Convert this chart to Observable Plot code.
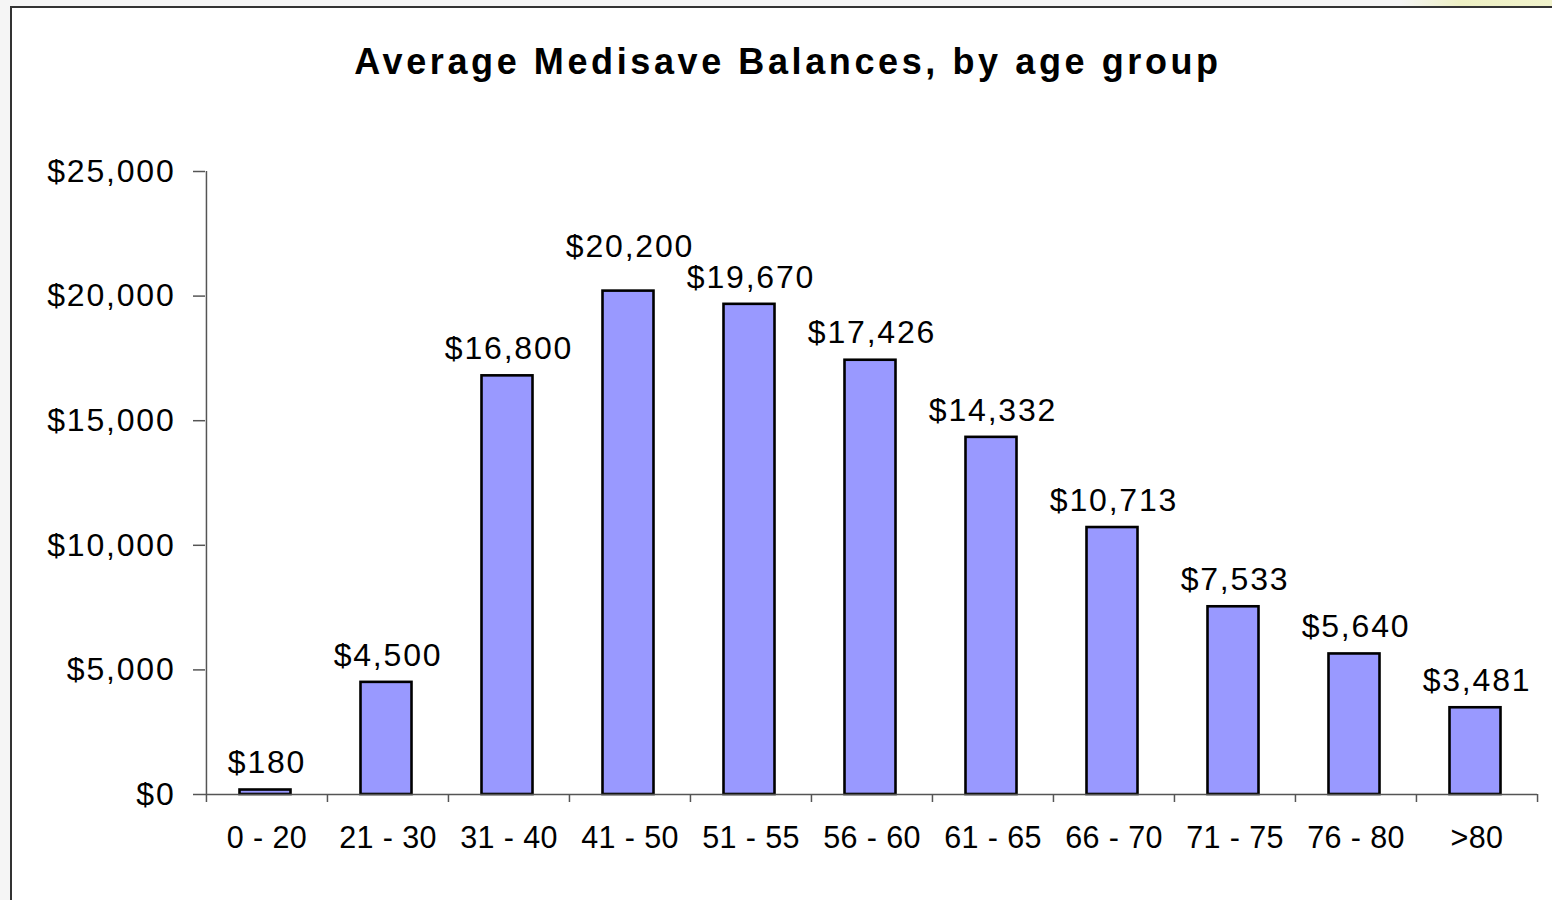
<!DOCTYPE html>
<html>
<head>
<meta charset="utf-8">
<script src="https://cdn.jsdelivr.net/npm/d3@7"></script>
<script src="https://cdn.jsdelivr.net/npm/@observablehq/plot@0.6"></script>
<style>
  html, body { margin: 0; padding: 0; overflow: hidden; background: #f5f5f5; width: 1552px; height: 900px; }
  #glow { position: absolute; left: 1400px; top: 0; width: 152px; height: 6px;
          background: linear-gradient(to right, rgba(240,242,200,0), #eef0c4 40%, #f1f3cc); }
  #frame { position: absolute; left: 10px; top: 6px; width: 1600px; height: 1000px;
           border: 2px solid #333; background: #fff; box-sizing: border-box; }
  #title { position: absolute; left: 0; top: 34px; width: 1552px; height: 40px; line-height: 40px;
           text-align: center; font-family: "Liberation Sans", Arial, sans-serif; font-weight: bold;
           font-size: 36px; letter-spacing: 3.6px; color: #000; }
  #chart { position: absolute; left: 0; top: 100px; }
  #chart svg { letter-spacing: 1.8px; }
  #chart svg g[aria-label="x-axis tick label"] { letter-spacing: 0.4px; }
</style>
</head>
<body>
<div id="glow"></div>
<div id="frame">
  <div id="title">Average Medisave Balances, by age group</div>
  <div id="chart"></div>
</div>
<script>
const categories = ["0 - 20", "21 - 30", "31 - 40", "41 - 50", "51 - 55", "56 - 60", "61 - 65", "66 - 70", "71 - 75", "76 - 80", ">80"];
const balances = [180, 4500, 16800, 20200, 19670, 17426, 14332, 10713, 7533, 5640, 3481];
const yTicks = [0, 5000, 10000, 15000, 20000, 25000];

const data = categories.map((c, i) => ({group: c, value: balances[i]}));
const money = d3.format("$,");

const W = 1540, H = 790, mL = 193, mR = 15, mT = 63, mB = 104;
const step = (W - mL - mR) / categories.length;
const frameH = H - mT - mB;
const axisColor = "#555";
const yMax = 25000;

// Lift a label above its right-hand neighbour when the two would collide (as Excel does)
const pxPerUnit = frameH / yMax;
const collides = (d, i) => i + 1 < data.length && d.value > data[i + 1].value &&
  (d.value - data[i + 1].value) * pxPerUnit < 30;
const normalLabels = data.filter((d, i) => !collides(d, i));
const liftedLabels = data.filter((d, i) => collides(d, i));

const chart = Plot.plot({
  width: W, height: H,
  marginLeft: mL, marginRight: mR, marginTop: mT, marginBottom: mB,
  style: {fontFamily: "'Liberation Sans', Arial, sans-serif", fontSize: "32px", color: "#000", background: "transparent"},
  x: {domain: categories, paddingInner: 0.58, paddingOuter: 0.29, label: null},
  y: {domain: [0, yMax], label: null},
  marks: [
    Plot.barY(data, {x: "group", y: "value", fill: "#9999FF", stroke: "#000", strokeWidth: 2.6, dx: -1.5}),
    // axis lines
    Plot.ruleY([0], {stroke: axisColor, strokeWidth: 1.5}),
    Plot.ruleX([categories[0]], {dx: -step / 2, stroke: axisColor, strokeWidth: 1.5}),
    // category boundary ticks
    Plot.ruleX(categories, {dx: -step / 2, insetTop: frameH, insetBottom: -8, stroke: axisColor, strokeWidth: 1.5}),
    Plot.ruleX([categories[categories.length - 1]], {dx: step / 2, insetTop: frameH, insetBottom: -8, stroke: axisColor, strokeWidth: 1.5}),
    Plot.axisY({ticks: yTicks, tickFormat: money, tickSize: 12, tickPadding: 18, stroke: axisColor, strokeWidth: 1.5, fontSize: 32}),
    Plot.axisX({tickSize: 0, tickPadding: 32, fontSize: 30.5}),
    Plot.text(normalLabels, {x: "group", y: "value", text: d => money(d.value), dy: -27, lineAnchor: "middle", fontSize: 32, fill: "#000"}),
    Plot.text(liftedLabels, {x: "group", y: "value", text: d => money(d.value), dy: -44, lineAnchor: "middle", fontSize: 32, fill: "#000"})
  ]
});
document.getElementById("chart").appendChild(chart);
</script>
</body>
</html>
